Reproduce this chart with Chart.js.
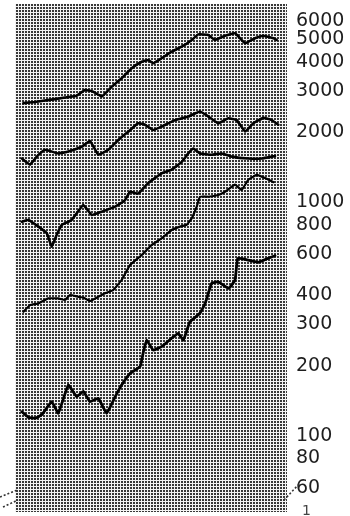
<!DOCTYPE html>
<html>
<head>
<meta charset="utf-8">
<script src="https://cdn.jsdelivr.net/npm/chart.js@4"></script>
<style>
html,body{margin:0;padding:0;background:#fff;}
#wrap{width:350px;height:516px;position:relative;}
</style>
</head>
<body>
<div id="wrap"><canvas id="c" width="350" height="516"></canvas></div>
<script>
// Series (x = time index, y = value on log axis)
const xA = [3.1,7.4,12.1,18.4,22.7,25.7,28.7,31.9,35.6,39.2,42.9,46.6,49.0,50.8,53.9,57.6,61.3,65.0,67.4,71.1,73.5,77.2,80.9,84.6,88.2,91.3,95.0,96.2];
const yA = [2660,2690,2740,2810,2860,3030,2980,2840,3130,3400,3750,4000,4070,3940,4140,4420,4640,4960,5240,5210,4960,5170,5300,4800,5040,5170,5040,4960];

const xB = [2.5,5.5,8.0,11.0,15.9,19.6,24.5,27.6,30.6,34.3,38.0,41.7,45.3,47.8,50.8,53.9,58.8,63.7,68.0,71.1,74.7,78.4,81.5,84.6,87.6,91.3,94.4,96.8];
const yB = [1540,1450,1570,1680,1620,1650,1730,1830,1600,1680,1850,2010,2180,2150,2040,2110,2250,2330,2450,2330,2180,2290,2250,2010,2180,2300,2250,2150];

const xC = [2.5,4.9,8.6,11.7,13.5,15.3,17.2,20.8,25.1,28.2,31.9,36.8,40.4,42.3,45.3,49.0,53.9,57.6,61.3,63.7,65.6,68.0,72.3,76.0,79.7,85.8,90.7,95.6];
const yC = [826,840,787,737,646,725,800,840,974,883,912,958,1020,1110,1090,1210,1330,1380,1490,1620,1700,1620,1600,1620,1570,1540,1540,1580];

const xD = [3.1,5.5,8.6,12.2,15.9,18.4,20.2,23.3,25.1,27.6,30.6,33.1,36.1,39.2,42.3,46.6,50.3,53.9,57.6,60.7,63.1,65.0,66.8,68.0,71.1,74.7,77.2,80.9,83.3,85.8,88.9,91.9,95.0];
const yD = [340,363,369,388,388,382,401,394,391,378,394,408,421,465,539,595,657,701,761,787,800,855,958,1057,1057,1075,1110,1190,1130,1250,1310,1270,1220];

const xE = [2.5,4.9,7.4,9.8,13.5,15.9,19.6,22.7,25.1,27.6,30.6,33.7,36.8,39.2,42.3,46.0,47.2,48.4,50.8,53.9,57.6,60.0,61.9,64.3,68.0,69.9,72.3,74.7,78.5,80.9,81.9,85.8,89.5,93.1,95.6];
const yE = [127,120,119,123,140,125,165,147,155,140,145,125,147,165,185,198,229,257,233,241,262,275,257,308,335,369,450,457,428,465,576,566,554,576,591];

const tickValues = [6000,5000,4000,3000,2000,1000,800,600,400,300,200,100,80,60];
const yMin = 47.2, yMax = 7070;
const xMin = 0, xMax = 100;

function pts(xs, ys){ return xs.map((x,i)=>({x:x, y:ys[i]})); }

// dithered gray background pattern
function makePattern(ctx){
  const t = document.createElement('canvas');
  t.width = 3; t.height = 3;
  const g = t.getContext('2d');
  g.fillStyle = '#383838'; g.fillRect(0,0,3,3);
  g.fillStyle = '#f4f4f4'; g.fillRect(0,0,3,1); g.fillRect(0,0,1,3);
  return ctx.createPattern(t,'repeat');
}

const bgPlugin = {
  id:'bg',
  beforeDatasetsDraw(chart){
    const {ctx, chartArea:a} = chart;
    ctx.save();
    ctx.fillStyle = makePattern(ctx);
    ctx.fillRect(a.left, a.top, a.right-a.left, a.bottom-a.top);
    ctx.restore();
  },
  afterDraw(chart){
    const {ctx, chartArea:a} = chart;
    ctx.save();
    ctx.strokeStyle = '#333';
    ctx.lineWidth = 1.6;
    ctx.setLineDash([2,2]);
    // axis-break marks
    ctx.beginPath();
    ctx.moveTo(0, a.bottom-15); ctx.lineTo(a.left+2, a.bottom-22);
    ctx.moveTo(3, a.bottom-5); ctx.lineTo(a.left+3, a.bottom-12);
    ctx.moveTo(a.right-3, a.bottom-12); ctx.lineTo(a.right+13, a.bottom-29);
    ctx.stroke();
    ctx.setLineDash([]);
    ctx.fillStyle = '#444';
    ctx.font = '14px "DejaVu Sans"';
    ctx.textBaseline = 'bottom';
    ctx.fillText('1', a.right+15, 518);
    ctx.restore();
  }
};

new Chart(document.getElementById('c'), {
  type:'line',
  data:{
    datasets:[
      {data:pts(xA,yA), borderColor:'#000', borderWidth:2.6},
      {data:pts(xB,yB), borderColor:'#000', borderWidth:2.6},
      {data:pts(xC,yC), borderColor:'#000', borderWidth:2.6},
      {data:pts(xD,yD), borderColor:'#000', borderWidth:2.2},
      {data:pts(xE,yE), borderColor:'#000', borderWidth:2.8}
    ]
  },
  options:{
    responsive:false,
    animation:false,
    layout:{padding:{left:15, top:4, bottom:4, right:0}},
    elements:{point:{radius:0}, line:{tension:0.1, borderJoinStyle:'round', borderCapStyle:'round'}},
    plugins:{legend:{display:false}, tooltip:{enabled:false}},
    scales:{
      x:{type:'linear', min:xMin, max:xMax, display:false},
      y:{
        type:'logarithmic', position:'right', min:yMin, max:yMax,
        grid:{display:false, drawTicks:false}, border:{display:false},
        afterBuildTicks(scale){ scale.ticks = tickValues.map(v=>({value:v})); },
        afterFit(scale){ scale.width = 63; scale.paddingTop = 0; scale.paddingBottom = 0; },
        ticks:{
          padding:9,
          color:'#1e1e1e',
          font:{family:'"DejaVu Sans"', size:19},
          callback:(v)=>String(v)
        }
      }
    }
  },
  plugins:[bgPlugin]
});
</script>
</body>
</html>
